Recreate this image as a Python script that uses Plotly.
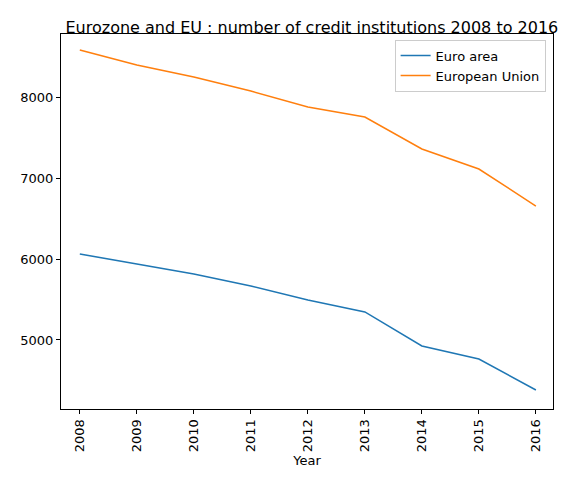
import plotly.graph_objects as go

years = [2008, 2009, 2010, 2011, 2012, 2013, 2014, 2015, 2016]
euro_area = [6062, 5938, 5815, 5667, 5494, 5346, 4926, 4765, 4383]
european_union = [8580, 8395, 8247, 8074, 7877, 7753, 7358, 7111, 6654]

fig = go.Figure()
fig.add_trace(go.Scatter(x=years, y=euro_area, mode="lines", name="Euro area",
                         line=dict(color="#1f77b4", width=1.5)))
fig.add_trace(go.Scatter(x=years, y=european_union, mode="lines", name="European Union",
                         line=dict(color="#ff7f0e", width=1.5)))

axis_style = dict(showline=True, linecolor="black", mirror=True, showgrid=False,
                  ticks="outside", ticklen=4, tickcolor="black", zeroline=False,
                  tickfont=dict(size=13, color="black"))

fig.update_layout(
    width=568, height=481,
    plot_bgcolor="white", paper_bgcolor="white",
    font=dict(family="DejaVu Sans", color="black"),
    margin=dict(l=49, r=23, t=26, b=80),
    title=dict(text="Eurozone and EU : number of credit institutions 2008 to 2016",
               x=0.535, xanchor="center", y=0.972, font=dict(size=16)),
    xaxis=dict(axis_style, range=[2007.67, 2016.3], tickmode="array", tickvals=years,
               tickangle=-90, title=dict(text="Year", font=dict(size=13), standoff=4)),
    yaxis=dict(axis_style, range=[4148, 8778], tickvals=[5000, 6000, 7000, 8000]),
    legend=dict(x=0.985, y=0.985, xanchor="right", yanchor="top",
                bordercolor="#cccccc", borderwidth=1, font=dict(size=13)),
)

fig.write_html("out.html")
